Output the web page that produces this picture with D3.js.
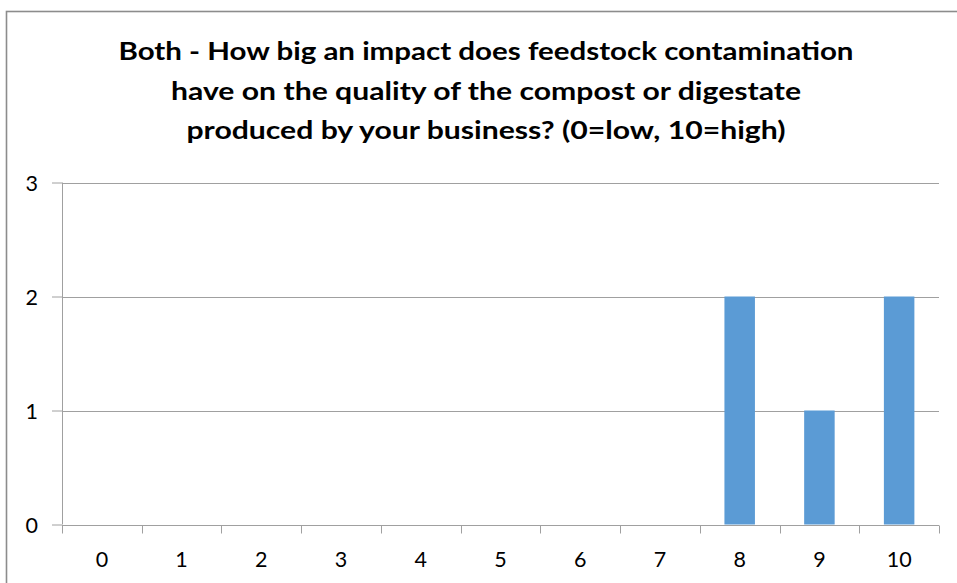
<!DOCTYPE html>
<html>
<head>
<meta charset="utf-8">
<script src="https://cdn.jsdelivr.net/npm/d3@7"></script>
<style>
  html, body { margin: 0; padding: 0; background: #fff; }
  svg { display: block; }
</style>
</head>
<body>
<script>
// Survey responses: number of businesses per rating (0 = low impact, 10 = high)
const categories = ["0", "1", "2", "3", "4", "5", "6", "7", "8", "9", "10"];
const counts = [0, 0, 0, 0, 0, 0, 0, 0, 2, 1, 2];
const yTicks = [0, 1, 2, 3];
const titleLines = [
  "Both - How big an impact does feedstock contamination",
  "have on the quality of the compost or digestate",
  "produced by your business? (0=low, 10=high)"
];

const W = 957, H = 583;
const plot = { left: 62, right: 939, top: 182.5, bottom: 524.5 };
const gridColor = "#a0a0a0";
const barColor = "#5b9bd5";
const font = "Lato, Calibri, 'Open Sans', sans-serif";

const svg = d3.select("body").append("svg")
  .attr("width", W).attr("height", H);

svg.append("rect").attr("width", W).attr("height", H).attr("fill", "#fff");

// chart frame
svg.append("rect")
  .attr("x", 6.5).attr("y", 11.5)
  .attr("width", W + 10).attr("height", H + 10)
  .attr("fill", "none").attr("stroke", "#8c8c8c").attr("stroke-width", 1.6);

// title
const titleY = [60, 99.5, 139];
const titleWidths = [735, 630, 599];
svg.append("g").selectAll("text").data(titleLines).join("text")
  .attr("x", 486)
  .attr("y", (d, i) => titleY[i])
  .attr("text-anchor", "middle")
  .attr("font-family", font)
  .attr("font-weight", "bold")
  .attr("font-size", 25.5)
  .attr("fill", "#000")
  .attr("textLength", (d, i) => titleWidths[i])
  .attr("lengthAdjust", "spacingAndGlyphs")
  .text(d => d);

const x = d3.scaleBand().domain(categories).range([plot.left, plot.right]).padding(0);
const y = d3.scaleLinear().domain([0, 3]).range([plot.bottom, plot.top]);

// horizontal gridlines
svg.append("g").selectAll("line").data(yTicks.slice(1)).join("line")
  .attr("x1", plot.left).attr("x2", plot.right)
  .attr("y1", d => Math.round(y(d)) + 0.5).attr("y2", d => Math.round(y(d)) + 0.5)
  .attr("stroke", gridColor).attr("stroke-width", 1);

// bars
const barW = 30.5;
svg.append("g").selectAll("rect").data(categories.map((c, i) => ({ c, v: counts[i] })).filter(d => d.v > 0))
  .join("rect")
  .attr("x", d => x(d.c) + x.bandwidth() / 2 - barW / 2)
  .attr("y", d => y(d.v))
  .attr("width", barW)
  .attr("height", d => y(0) - y(d.v))
  .attr("fill", barColor);

// y axis
const yAxis = svg.append("g")
  .attr("transform", `translate(${plot.left},0)`)
  .call(d3.axisLeft(y).tickValues(yTicks).tickSize(10).tickPadding(14).tickFormat(d3.format("d")));
yAxis.select(".domain").attr("stroke", gridColor).attr("d", `M0.5,${plot.top}V${plot.bottom}`);
yAxis.selectAll(".tick line").attr("stroke", gridColor);
yAxis.selectAll(".tick text")
  .attr("font-family", font).attr("font-size", 21.5).attr("fill", "#000")
  .attr("dy", "0.36em");

// x axis with ticks at category boundaries
const xAxis = svg.append("g")
  .attr("transform", `translate(0,${Math.round(plot.bottom) + 0.5})`)
  .call(d3.axisBottom(x).tickSize(0).tickPadding(26));
xAxis.select(".domain").attr("stroke", gridColor).attr("d", `M${plot.left},0H${plot.right}`);
xAxis.selectAll(".tick text")
  .attr("font-family", font).attr("font-size", 21.5).attr("fill", "#000");
const bounds = categories.map(c => x(c)).concat([plot.right]);
xAxis.append("g").selectAll("line").data(bounds).join("line")
  .attr("x1", d => Math.round(d) + 0.5).attr("x2", d => Math.round(d) + 0.5)
  .attr("y1", 0).attr("y2", 8)
  .attr("stroke", gridColor);
</script>
</body>
</html>
